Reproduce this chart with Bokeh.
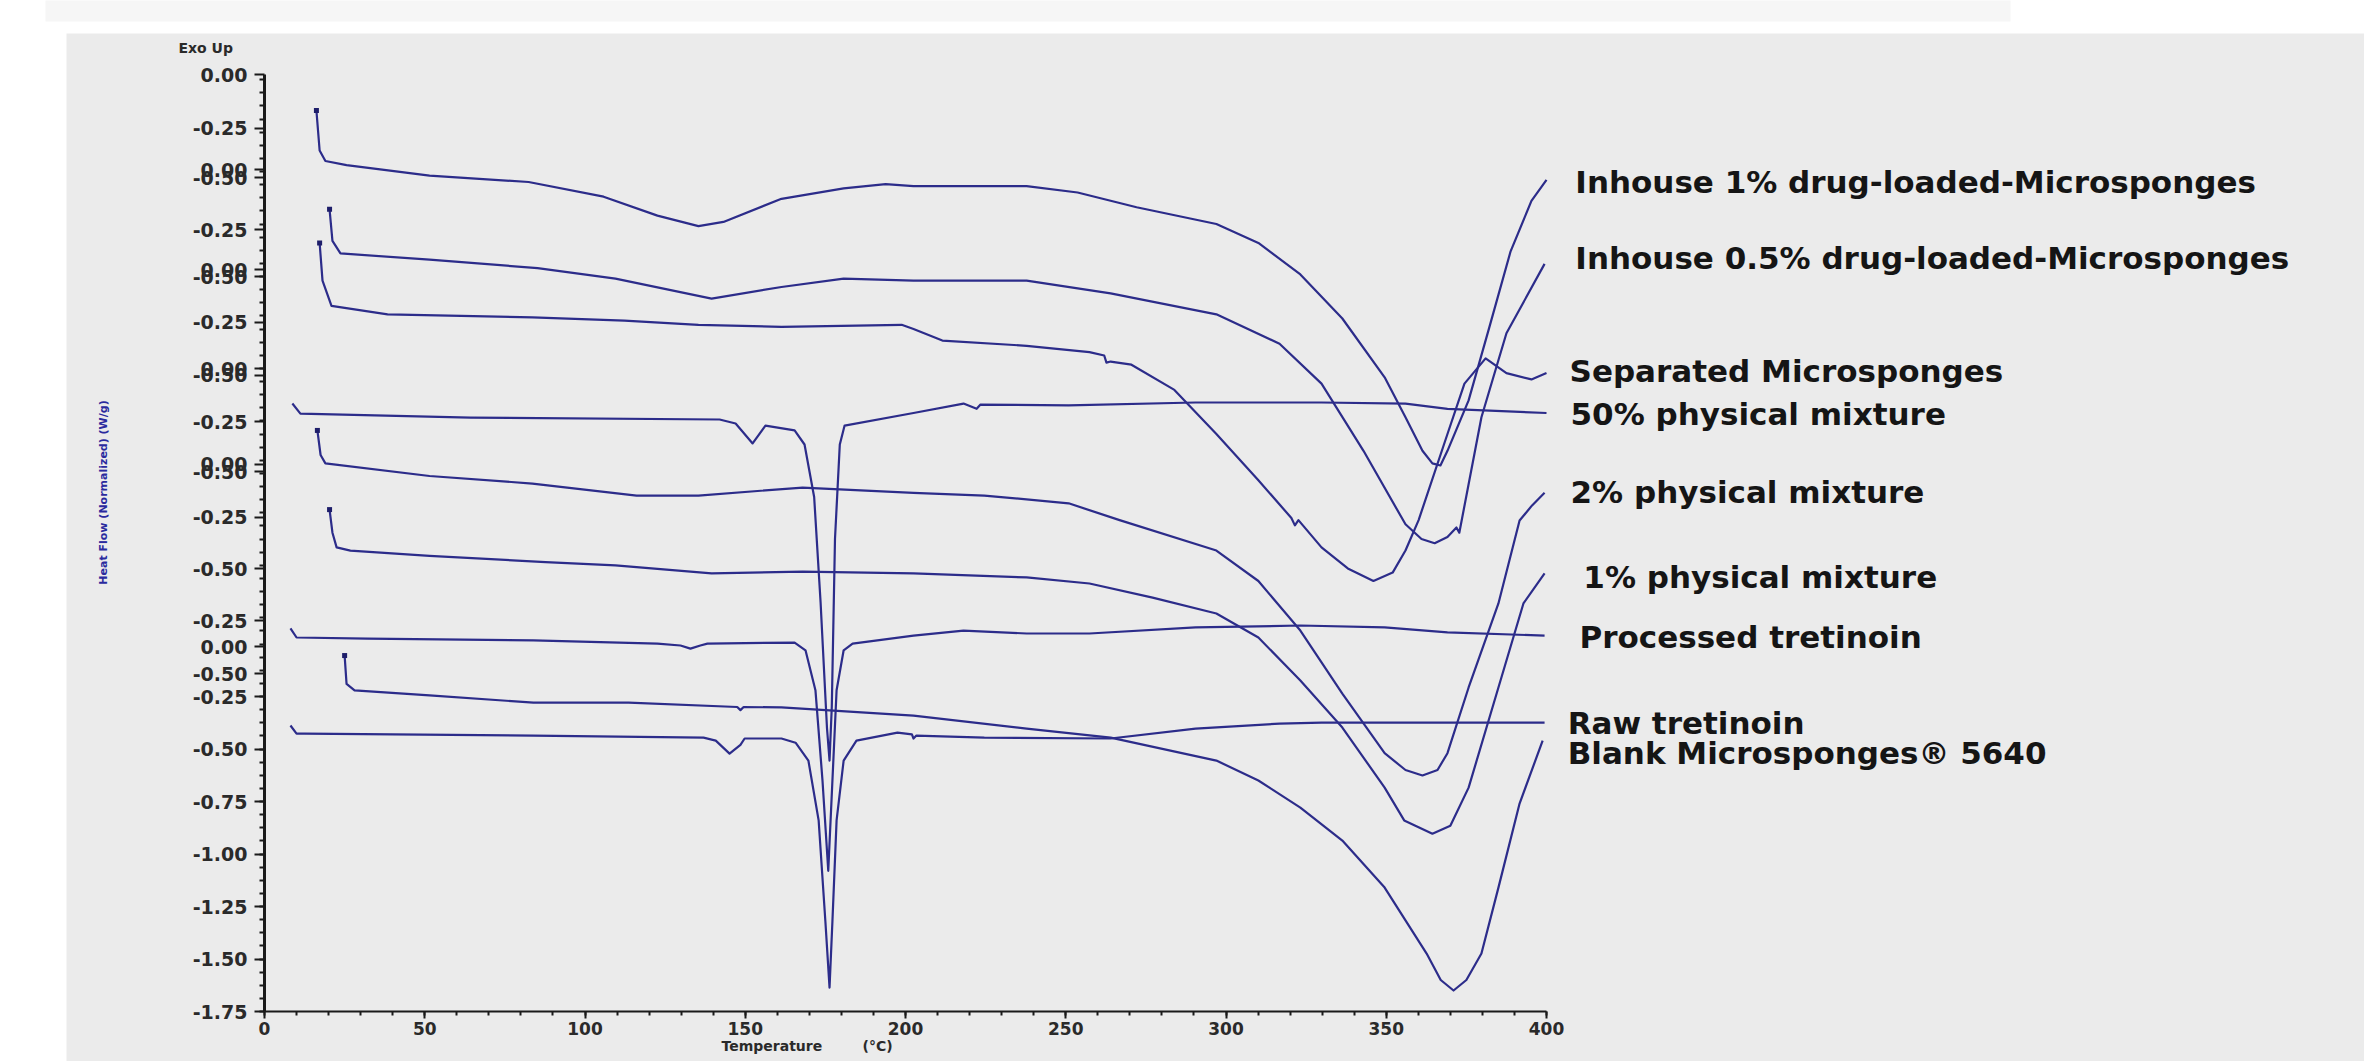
import math
from bokeh.plotting import figure
from bokeh.models import Range1d, LinearAxis, FixedTicker
from bokeh.core.properties import value
from bokeh.embed import file_html
from bokeh.resources import INLINE

# ---------------- data (temperature in degC, heat flow in stacked display units) -------------
inhouse1_t = [16.2, 17.2, 19.0, 25.6, 51.5, 82.4, 105.8, 122.6, 135.4, 143.2, 161.3, 180.7, 193.8,
              202.5, 237.8, 253.7, 272.1, 297.0, 310.1, 323.2, 336.3, 349.5, 356.0, 361.3, 364.4,
              366.9, 369.1, 375.7, 382.2, 388.8, 395.3, 400.0]
inhouse1_hf = [2.54, 2.35, 2.30, 2.28, 2.23, 2.20, 2.13, 2.04, 1.99, 2.01, 2.12, 2.17, 2.19,
               2.18, 2.18, 2.15, 2.08, 2.00, 1.91, 1.76, 1.55, 1.27, 1.08, 0.92, 0.86,
               0.85, 0.92, 1.16, 1.51, 1.87, 2.11, 2.21]

inhouse05_t = [20.3, 21.2, 23.7, 51.5, 85.2, 109.5, 139.5, 161.3, 180.7, 202.5, 237.8, 264.0,
               297.0, 316.7, 329.8, 342.9, 356.0, 361.0, 365.1, 369.1, 371.9, 372.8, 379.7,
               387.5, 399.4]
inhouse05_hf = [2.07, 1.92, 1.86, 1.83, 1.79, 1.74, 1.645, 1.70, 1.74, 1.73, 1.73, 1.67,
                1.57, 1.43, 1.24, 0.92, 0.57, 0.50, 0.48, 0.51, 0.555, 0.53, 1.08,
                1.48, 1.81]

separated_t = [17.2, 18.1, 20.9, 38.4, 83.6, 112.3, 135.4, 161.3, 198.8, 202.5, 211.5, 237.8,
               257.4, 262.0, 262.7, 264.0, 270.5, 283.9, 297.0, 310.1, 320.4, 321.5, 322.6,
               329.8, 338.0, 346.0, 352.0, 356.0, 360.1, 369.1, 374.4, 381.0, 387.5, 395.3, 400.0]
separated_hf = [1.91, 1.73, 1.61, 1.57, 1.555, 1.54, 1.52, 1.51, 1.52, 1.50, 1.445, 1.42,
                1.39, 1.374, 1.34, 1.345, 1.33, 1.21, 1.00, 0.78, 0.60, 0.565, 0.59,
                0.46, 0.36, 0.30, 0.34, 0.445, 0.59, 1.00, 1.24, 1.36, 1.29, 1.26, 1.29]

pm50_t = [8.7, 11.2, 64.3, 142.0, 147.0, 152.3, 156.3, 165.4, 168.5, 171.5, 173.5, 175.5, 176.3,
          177.0, 178.0, 179.5, 181.0, 202.5, 218.1, 222.2, 223.4, 250.9, 290.5, 329.8, 356.0,
          369.1, 400.0]
pm50_hf = [1.145, 1.097, 1.078, 1.069, 1.05, 0.955, 1.04, 1.017, 0.95, 0.70, 0.20, -0.40, -0.555,
           -0.30, 0.50, 0.95, 1.04, 1.10, 1.145, 1.12, 1.14, 1.136, 1.15, 1.15, 1.145,
           1.12, 1.10]

pm2_t = [16.5, 17.5, 19.0, 51.5, 83.6, 116.1, 135.4, 167.9, 202.5, 224.6, 250.9, 266.8, 297.0,
         310.1, 323.2, 336.3, 349.5, 356.0, 361.3, 366.0, 369.1, 375.7, 385.0, 391.6, 395.5, 399.4]
pm2_hf = [1.017, 0.90, 0.86, 0.80, 0.764, 0.707, 0.707, 0.745, 0.72, 0.707, 0.67, 0.59, 0.445,
          0.30, 0.064, -0.236, -0.52, -0.60, -0.626, -0.60, -0.52, -0.207, 0.193, 0.588, 0.66, 0.72]

pm1_t = [20.3, 21.2, 22.5, 26.8, 51.5, 87.7, 109.5, 139.5, 167.9, 202.5, 237.8, 257.4, 277.1,
         297.0, 310.1, 323.2, 336.3, 349.5, 355.6, 364.4, 370.0, 375.7, 385.0, 392.8, 399.4]
pm1_hf = [0.64, 0.53, 0.46, 0.445, 0.42, 0.39, 0.374, 0.336, 0.345, 0.336, 0.317, 0.288, 0.221,
          0.145, 0.031, -0.174, -0.398, -0.684, -0.84, -0.903, -0.865, -0.684, -0.207, 0.193, 0.336]

processed_t = [8.1, 10.0, 32.1, 83.9, 122.6, 129.8, 132.9, 136.0, 138.2, 165.4, 168.8, 171.9,
               174.1, 175.9, 177.2, 178.5, 180.7, 183.5, 202.5, 218.1, 237.8, 257.4, 290.5,
               323.2, 349.5, 369.1, 399.4]
processed_hf = [0.074, 0.031, 0.026, 0.017, 0.002, -0.007, -0.022, -0.007, 0.002, 0.007, -0.03,
                -0.22, -0.65, -1.08, -0.65, -0.22, -0.03, 0.002, 0.04, 0.064, 0.05, 0.05, 0.079,
                0.088, 0.079, 0.055, 0.04]

raw_t = [8.1, 10.0, 12.5, 83.9, 137.0, 140.8, 145.1, 148.5, 149.8, 161.3, 165.7, 169.7, 172.9,
         175.0, 176.3, 177.2, 178.5, 180.7, 184.7, 197.5, 202.0, 202.5, 203.4, 224.6, 264.0,
         290.5, 316.7, 329.8, 399.4]
raw_hf = [-0.388, -0.427, -0.427, -0.436, -0.446, -0.46, -0.522, -0.48, -0.45, -0.45, -0.47,
          -0.555, -0.84, -1.32, -1.636, -1.32, -0.84, -0.555, -0.46, -0.422, -0.43, -0.45,
          -0.436, -0.446, -0.45, -0.403, -0.379, -0.374, -0.374]

blank_t = [25.0, 25.6, 28.1, 51.5, 83.9, 113.6, 147.5, 148.5, 149.5, 161.3, 202.5, 237.8, 264.0,
           297.0, 310.1, 323.2, 336.3, 349.5, 362.6, 367.0, 371.0, 375.0, 379.7, 385.0, 391.6, 398.8]
blank_hf = [-0.055, -0.19, -0.221, -0.245, -0.279, -0.279, -0.30, -0.315, -0.30, -0.302, -0.341,
            -0.403, -0.446, -0.555, -0.65, -0.779, -0.936, -1.16, -1.474, -1.60, -1.65, -1.60,
            -1.474, -1.16, -0.76, -0.46]

label_texts = ["Inhouse 1% drug-loaded-Microsponges", "Inhouse 0.5% drug-loaded-Microsponges",
               "Separated Microsponges", "50% physical mixture", "2% physical mixture",
               "1% physical mixture", "Processed tretinoin", "Raw tretinoin",
               "Blank Microsponges\u00ae 5640"]
label_t = [409.0, 409.0, 407.2, 407.5, 407.5, 411.5, 410.3, 406.6, 406.6]
label_hf = [2.198, 1.840, 1.302, 1.093, 0.726, 0.317, 0.031, -0.374, -0.517]

x_ticks = [0, 50, 100, 150, 200, 250, 300, 350, 400]
y_tick_values = [2.7119, 2.4548, 2.2595, 2.2214, 1.9738, 1.7833, 1.7500, 1.5310, 1.3119, 1.2786,
                 1.0595, 0.8548, 0.8214, 0.6024, 0.3595, 0.1119, -0.0119, -0.1405, -0.25,
                 -0.5, -0.75, -1.0, -1.25, -1.5, -1.75]
y_tick_labels = ["0.00", "-0.25", "0.00", "-0.50", "-0.25", "0.00", "-0.50", "-0.25", "0.00",
                 "-0.50", "-0.25", "0.00", "-0.50", "-0.25", "-0.50", "-0.25", "0.00", "-0.50",
                 "-0.25", "-0.50", "-0.75", "-1.00", "-1.25", "-1.50", "-1.75"]

series = [(inhouse1_t, inhouse1_hf), (inhouse05_t, inhouse05_hf), (separated_t, separated_hf),
          (pm50_t, pm50_hf), (pm2_t, pm2_hf), (pm1_t, pm1_hf), (processed_t, processed_hf),
          (raw_t, raw_hf), (blank_t, blank_hf)]
# curves whose record starts with a sharp start-up spike (dark mark at its tip)
spiked = [inhouse1_t, inhouse05_t, separated_t, pm2_t, pm1_t, blank_t]
spiked_hf = [inhouse1_hf, inhouse05_hf, separated_hf, pm2_hf, pm1_hf, blank_hf]

# ---------------- layout helpers (reference pixel -> data) ----------------
X0_PX, X_SCALE = 264.0, 3.205
Y_TOP, Y_SCALE = 3.0643, 210.0
def dx(px):
    return (px - X0_PX) / X_SCALE
def dy(py):
    return Y_TOP - py / Y_SCALE

W, H = 2364, 1061
LINE = "#2c2c8a"

p = figure(width=W, height=H, output_backend="svg", toolbar_location=None,
           x_range=Range1d(dx(0), dx(W)), y_range=Range1d(dy(H), dy(0)),
           x_axis_location=None, y_axis_location=None, min_border=0)
p.outline_line_color = None
p.background_fill_color = "white"
p.border_fill_color = "white"
p.grid.grid_line_color = None

# backgrounds
p.quad(left=[dx(66)], right=[dx(2400)], bottom=[dy(1100)], top=[dy(33)],
       fill_color="#ebebeb", line_color=None, level="image")
p.quad(left=[dx(45)], right=[dx(2010)], bottom=[dy(21)], top=[dy(-10)],
       fill_color="#f6f6f6", line_color=None, level="image")

for t, hf in series:
    p.line(t, hf, line_color=LINE, line_width=2.2, line_join="round")

p.scatter([t[0] for t in spiked], [h[0] for h in spiked_hf], size=5, marker="square",
          fill_color="#1e1e6a", line_color=None)

# axes
xaxis = LinearAxis(fixed_location=-1.75, bounds=(0, 400),
                   ticker=FixedTicker(ticks=x_ticks, minor_ticks=list(range(0, 401, 10))))
xaxis.axis_line_width = 2
xaxis.axis_line_color = "#1a1a1a"
xaxis.major_tick_out = 7
xaxis.major_tick_in = 0
xaxis.minor_tick_out = 4
xaxis.minor_tick_in = 0
xaxis.major_tick_line_width = 2
xaxis.minor_tick_line_width = 2
xaxis.major_tick_line_color = "#1a1a1a"
xaxis.minor_tick_line_color = "#1a1a1a"
xaxis.major_label_standoff = 3
xaxis.major_label_text_font = "DejaVu Sans"
xaxis.major_label_text_font_style = "bold"
xaxis.major_label_text_font_size = "17px"
xaxis.major_label_text_color = "#2a2a2a"
p.add_layout(xaxis, "below")

y_minor = [-1.75 + 0.0625 * i for i in range(72)]
yaxis = LinearAxis(fixed_location=0, bounds=(-1.75, y_tick_values[0]),
                   ticker=FixedTicker(ticks=y_tick_values, minor_ticks=y_minor))
yaxis.major_label_overrides = {v: s for v, s in zip(y_tick_values, y_tick_labels)}
yaxis.axis_line_width = 3
yaxis.axis_line_color = "#1a1a1a"
yaxis.major_tick_out = 10
yaxis.major_tick_in = 0
yaxis.minor_tick_out = 5
yaxis.minor_tick_in = 0
yaxis.major_tick_line_width = 2
yaxis.minor_tick_line_width = 2
yaxis.major_tick_line_color = "#1a1a1a"
yaxis.minor_tick_line_color = "#1a1a1a"
yaxis.major_label_standoff = 7
yaxis.major_label_text_font = "DejaVu Sans"
yaxis.major_label_text_font_style = "bold"
yaxis.major_label_text_font_size = "19px"
yaxis.major_label_text_color = "#2a2a2a"
p.add_layout(yaxis, "left")

# titles
p.text(x=[dx(178)], y=[dy(47)], text=["Exo Up"], text_font=value("DejaVu Sans"),
       text_font_style="bold", text_font_size="14px", text_color="#2a2a2a",
       text_align="left", text_baseline="middle")
p.text(x=[dx(103)], y=[dy(492)], text=["Heat Flow (Normalized) (W/g)"], angle=math.pi / 2,
       text_font=value("DejaVu Sans"), text_font_style="bold", text_font_size="11px",
       text_color="#2a2a9e", text_align="center", text_baseline="middle")
p.text(x=[dx(721), dx(862)], y=[dy(1045), dy(1045)], text=["Temperature", "(\u00b0C)"],
       text_font=value("DejaVu Sans"), text_font_style="bold", text_font_size="14px",
       text_color="#2a2a2a", text_align="left", text_baseline="middle")

# curve labels
p.text(x=label_t, y=label_hf, text=label_texts, text_font=value("DejaVu Sans"),
       text_font_style="bold", text_font_size="31px", text_color="#151515",
       text_align="left", text_baseline="middle")

open("out.html", "w").write(file_html(p, INLINE))
